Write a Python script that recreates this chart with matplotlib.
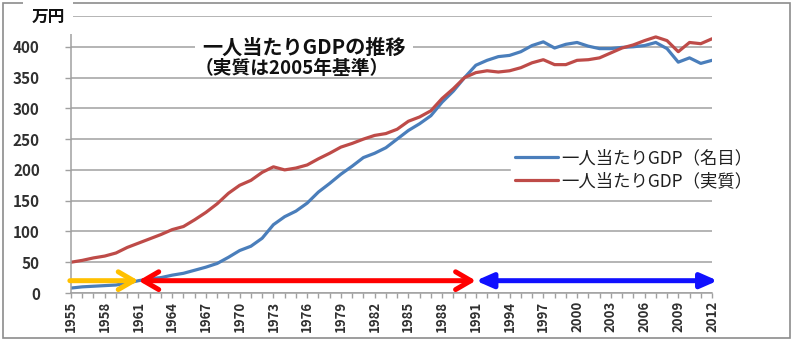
import numpy as np
import matplotlib
matplotlib.use("Agg")
import matplotlib.pyplot as plt
from matplotlib.patches import Rectangle

plt.rcParams['font.family'] = ['Noto Sans CJK JP', 'DejaVu Sans']

years = list(range(1955, 2013))
# 一人当たりGDP（万円）
gdp_nominal = [8, 10, 11, 12, 13, 16, 20, 23, 25, 29,
               32, 37, 42, 48, 58, 69, 76, 89, 111, 124,
               133, 146, 164, 178, 193, 206, 220, 227, 236, 250,
               264, 275, 288, 310, 328, 350, 370, 378, 384, 386,
               392, 402, 408, 398, 404, 407, 401, 397, 397, 399,
               400, 402, 407, 397, 375, 382, 373, 378]
gdp_real = [50, 53, 57, 60, 65, 74, 81, 88, 95, 103,
            108, 119, 131, 145, 162, 175, 183, 196, 205, 200,
            203, 208, 218, 227, 237, 243, 250, 256, 259, 266,
            279, 286, 296, 316, 332, 350, 358, 361, 359, 361,
            366, 374, 379, 371, 371, 378, 379, 382, 390, 398,
            403, 410, 416, 410, 392, 407, 405, 413]
series_labels = ['一人当たりGDP（名目）', '一人当たりGDP（実質）']
y_ticks = [0, 50, 100, 150, 200, 250, 300, 350, 400, 450]
y_tick_labels = ['0', '50', '100', '150', '200', '250', '300', '350', '400', '']

# 期間の矢印（開始年, 終了年）
period_yellow = (1955, 1961)
period_red = (1961, 1991)
period_blue = (1991, 2012)
arrow_level = 20

x = np.arange(len(years))
idx = {y: i for i, y in enumerate(years)}

fig = plt.figure(figsize=(7.96, 3.42), dpi=100)
ax = fig.add_axes([71 / 796, 1 - 293 / 342, 641 / 796, 277 / 342])

grid_c = '#a0a0a0'
ax.set_ylim(0, 450)
ax.set_xlim(0, len(years) - 1)
ax.set_yticks(y_ticks)
ax.set_yticklabels(y_tick_labels, fontsize=11, fontweight='bold', color='#303030')
ax.yaxis.grid(True, color=grid_c, lw=1.1)
ax.set_axisbelow(True)

ax.set_xticks(x, minor=True)
ax.set_xticks(x[::3])
ax.set_xticklabels([str(y) for y in years[::3]], rotation=90, fontsize=9.5,
                   fontweight='bold', color='#303030')
ax.tick_params(axis='y', length=4.5, width=1, color=grid_c, pad=18)
ax.tick_params(axis='x', which='both', length=3.5, width=1, color=grid_c, pad=2)

for s in ['top', 'right']:
    ax.spines[s].set_visible(False)
for s in ['left', 'bottom']:
    ax.spines[s].set_color(grid_c)
    ax.spines[s].set_linewidth(1.1)

ax.plot(x, gdp_nominal, color='#4a7ebb', lw=2.3, label=series_labels[0], solid_capstyle='round')
ax.plot(x, gdp_real, color='#be4b48', lw=2.3, label=series_labels[1], solid_capstyle='round')

def period_arrow(start, end, color, style, x0=None, x1=None):
    a = idx[start] if x0 is None else x0
    b = idx[end] if x1 is None else x1
    ax.annotate('', xy=(b, arrow_level), xytext=(a, arrow_level),
                arrowprops=dict(arrowstyle=style, color=color, lw=3.6,
                                shrinkA=0, shrinkB=0, mutation_scale=20),
                annotation_clip=False, zorder=5)

period_arrow(*period_blue, '#1010ff', '<|-|>,head_length=0.5,head_width=0.22', x1=idx[2012] + 0.5)
period_arrow(*period_red, '#ff0000', '<->,head_length=0.55,head_width=0.32')
period_arrow(*period_yellow, '#ffc000', '->,head_length=0.55,head_width=0.32', x0=-0.1)

leg = ax.legend(loc='upper left', bbox_to_anchor=(511 / 796, 1 - 145 / 342),
                bbox_transform=fig.transFigure, frameon=True, fontsize=12.5,
                handlelength=2.45, handletextpad=0.2, labelspacing=0.28,
                borderpad=0.25, borderaxespad=0)
leg.get_frame().set_facecolor('white')
leg.get_frame().set_edgecolor('white')
leg.get_frame().set_alpha(1)
for t in leg.get_texts():
    t.set_color('#202020')

fig.text(304 / 796, 1 - 47 / 342, '一人当たりGDPの推移', ha='center', va='center',
         fontsize=14.5, fontweight='bold', color='#111111',
         bbox=dict(facecolor='white', edgecolor='none', boxstyle='square,pad=0.35'))
fig.text(292 / 796, 1 - 69 / 342, '（実質は2005年基準）', ha='center', va='center',
         fontsize=13.5, fontweight='bold', color='#111111')

fig.text(48 / 796, 1 - 17 / 342, '万円', ha='center', va='center',
         fontsize=12, fontweight='bold', color='#111111',
         bbox=dict(facecolor='white', edgecolor='none', boxstyle='square,pad=0.5'))

fig.patches.append(Rectangle((3 / 796, 4 / 342), 787 / 796, 335 / 342,
                             transform=fig.transFigure, fill=False,
                             edgecolor='#8c8c8c', lw=1.2))

fig.savefig('out.png', dpi=100)
